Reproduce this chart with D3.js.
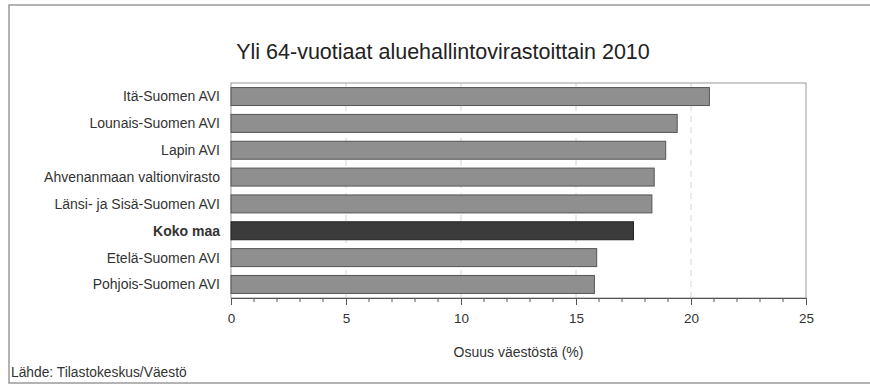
<!DOCTYPE html>
<html><head><meta charset="utf-8">
<script src="https://cdn.jsdelivr.net/npm/d3@7"></script>
<style>
body{margin:0;background:#fff;}
text{font-family:"Liberation Sans",Arial,sans-serif;}
</style></head>
<body>
<svg id="chart" width="870" height="385"></svg>
<script>
const categories = ["Itä-Suomen AVI","Lounais-Suomen AVI","Lapin AVI","Ahvenanmaan valtionvirasto","Länsi- ja Sisä-Suomen AVI","Koko maa","Etelä-Suomen AVI","Pohjois-Suomen AVI"];
const values = [20.8, 19.4, 18.9, 18.4, 18.3, 17.5, 15.9, 15.8];
const highlight = "Koko maa";
const xTicks = [0,5,10,15,20,25];
const title = "Yli 64-vuotiaat aluehallintovirastoittain 2010";
const xTitle = "Osuus väestöstä (%)";
const source = "Lähde: Tilastokeskus/Väestö";

const svg = d3.select("#chart");
const m = {left:231, right:806, top:83, bottom:298};

// outer frame
svg.append("path").attr("d","M870,5 H9 V383 H870").attr("fill","none").attr("stroke","#9a9a9a").attr("stroke-width",1.5);

const x = d3.scaleLinear().domain([0,25]).range([m.left,m.right]);
const y = d3.scaleBand().domain(categories).range([m.top,m.bottom]).paddingInner(0.33).paddingOuter(0.17);

// gridlines
svg.append("g").selectAll("line").data(xTicks.filter(d=>d>0&&d<25)).join("line")
  .attr("x1",d=>x(d)).attr("x2",d=>x(d)).attr("y1",m.top).attr("y2",m.bottom)
  .attr("stroke","#d4d4d4").attr("stroke-width",1).attr("stroke-dasharray","6,5");

// plot frame
svg.append("rect").attr("x",m.left).attr("y",m.top).attr("width",m.right-m.left).attr("height",m.bottom-m.top)
  .attr("fill","none").attr("stroke","#999").attr("stroke-width",1);

// bars
svg.append("g").selectAll("rect").data(categories).join("rect")
  .attr("x",x(0)).attr("y",d=>y(d)).attr("height",y.bandwidth())
  .attr("width",(d,i)=>x(values[i])-x(0))
  .attr("fill",d=>d===highlight?"#3b3b3b":"#8f8f8f")
  .attr("stroke",d=>d===highlight?"#222":"#555").attr("stroke-width",1);

// category labels
svg.append("g").selectAll("text").data(categories).join("text")
  .attr("x",m.left-11).attr("y",d=>y(d)+y.bandwidth()/2).attr("dy","0.35em")
  .attr("text-anchor","end").attr("font-size",14).attr("fill","#333")
  .attr("font-weight",d=>d===highlight?"bold":"normal")
  .text(d=>d);

// x axis
const xAxis = d3.axisBottom(x).tickValues(xTicks).tickSize(7).tickPadding(8).tickFormat(d3.format("d"));
const gx = svg.append("g").attr("transform",`translate(0,${m.bottom})`).call(xAxis);
gx.select(".domain").attr("stroke","#555");
gx.selectAll(".tick line").attr("stroke","#555");
gx.selectAll(".tick text").attr("font-size",13.5).attr("fill","#333").attr("font-family","Liberation Sans, Arial, sans-serif");
const minor = d3.range(0,26).filter(d=>d%5!==0);
svg.append("g").selectAll("line").data(minor).join("line")
  .attr("x1",d=>x(d)).attr("x2",d=>x(d)).attr("y1",m.bottom).attr("y2",m.bottom+4)
  .attr("stroke","#555");

// titles
svg.append("text").attr("x",443).attr("y",59).attr("text-anchor","middle").attr("font-size",21.5).attr("fill","#222").text(title);
svg.append("text").attr("x",(m.left+m.right)/2).attr("y",357).attr("text-anchor","middle").attr("font-size",14).attr("fill","#333").text(xTitle);
svg.append("text").attr("x",11).attr("y",377).attr("font-size",13.8).attr("fill","#333").text(source);
</script>
</body></html>
